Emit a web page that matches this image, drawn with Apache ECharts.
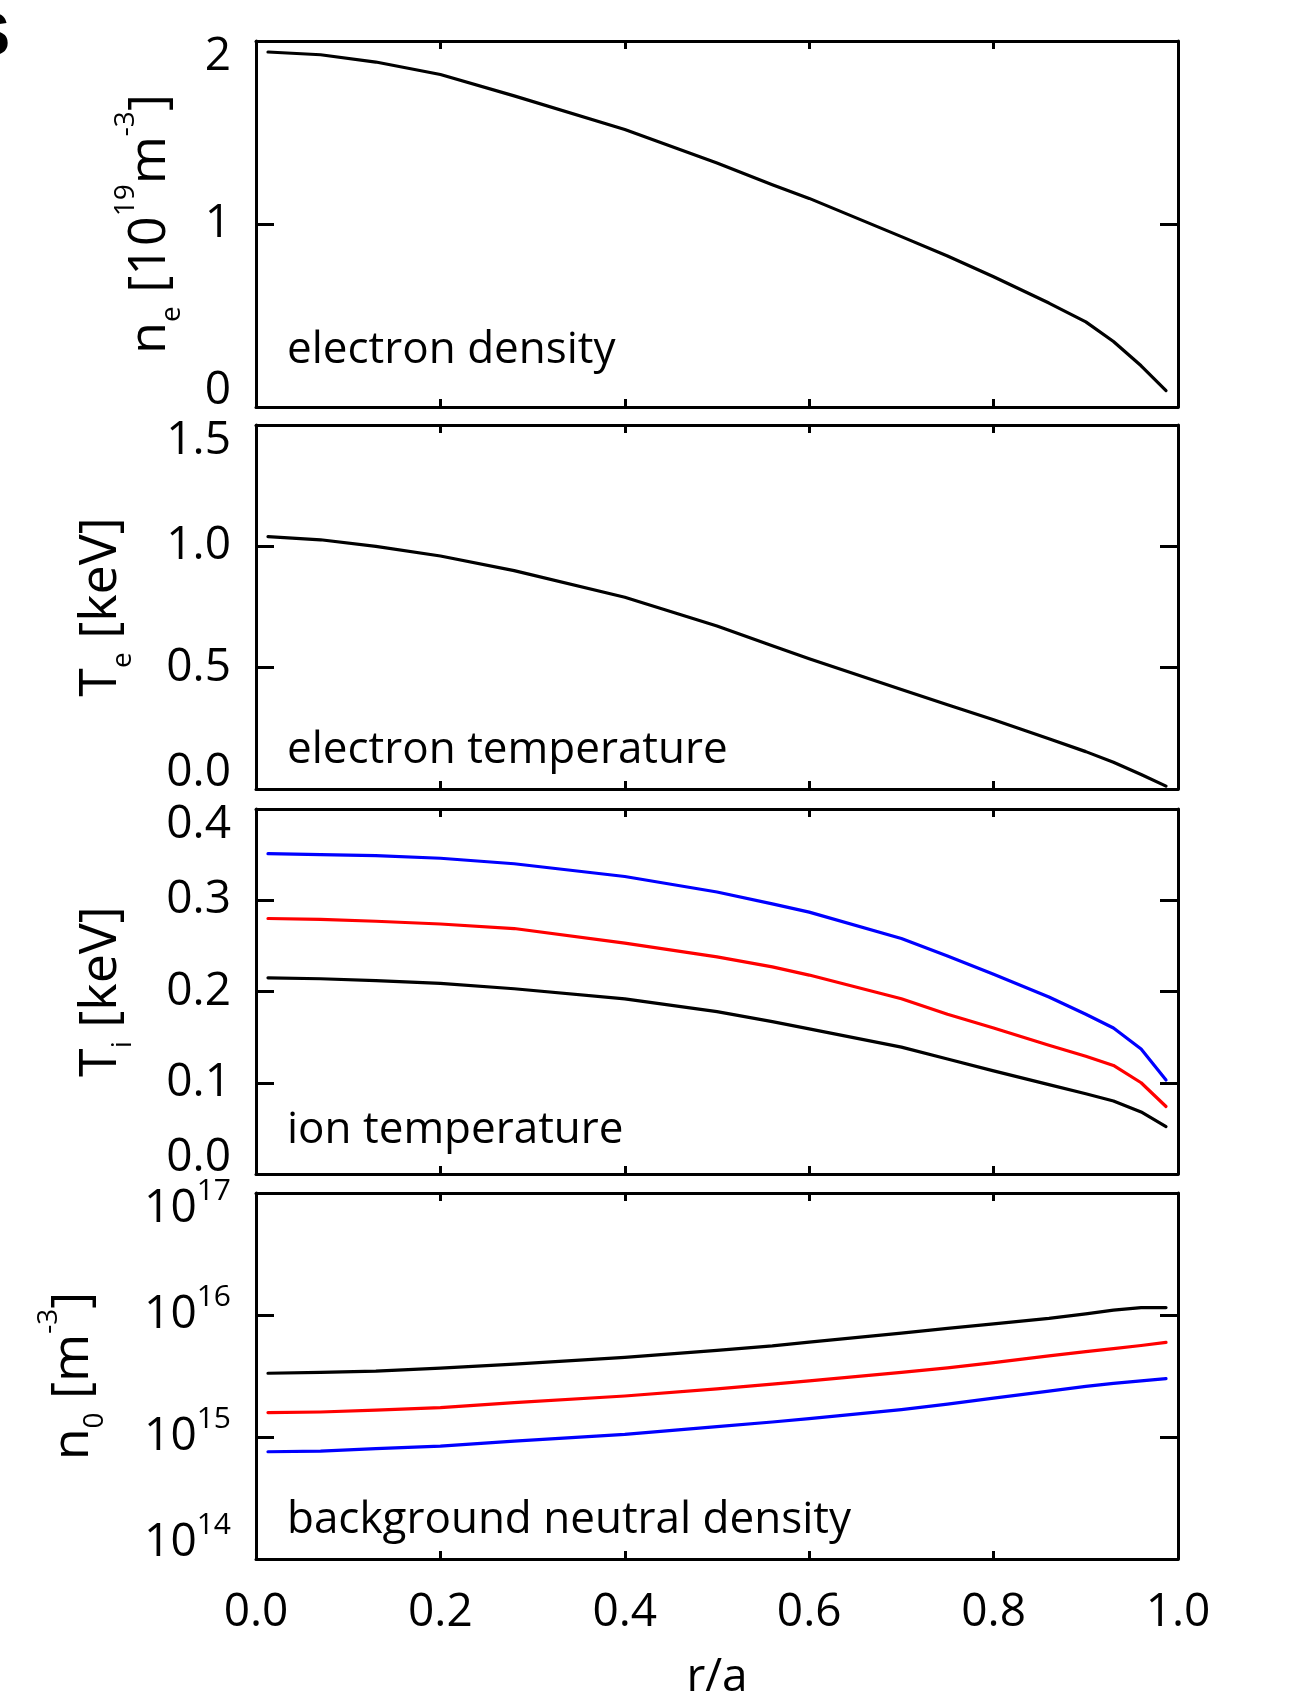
<!DOCTYPE html>
<html>
<head>
<meta charset="utf-8">
<title>Radial profiles</title>
<script src="https://cdn.jsdelivr.net/npm/echarts@6/dist/echarts.min.js"></script>
<style>
  html, body { margin: 0; padding: 0; background: #fff; }
  #chart { width: 1292px; height: 1694px; }
</style>
</head>
<body>
<div id="chart"></div>
<script>
// r/a sample points shared by all profiles
const radius = [0.013, 0.07, 0.13, 0.2, 0.28, 0.4, 0.5, 0.56, 0.6, 0.7, 0.75, 0.8, 0.86, 0.9, 0.93, 0.96, 0.987];

// n_e [1e19 m^-3]
const electronDensity = [1.94, 1.925, 1.885, 1.817, 1.70, 1.516, 1.333, 1.215, 1.14, 0.931, 0.825, 0.712, 0.568, 0.465, 0.358, 0.225, 0.09];
// T_e [keV]
const electronTemp = [1.04, 1.027, 1.0, 0.96, 0.90, 0.79, 0.672, 0.59, 0.537, 0.41, 0.347, 0.285, 0.207, 0.154, 0.11, 0.06, 0.012];
// T_i [keV]
const ionTempBlack = [0.215, 0.214, 0.212, 0.209, 0.203, 0.192, 0.178, 0.167, 0.159, 0.139, 0.126, 0.113, 0.098, 0.088, 0.080, 0.068, 0.052];
const ionTempRed = [0.280, 0.279, 0.277, 0.274, 0.269, 0.253, 0.238, 0.227, 0.218, 0.192, 0.175, 0.160, 0.141, 0.129, 0.119, 0.100, 0.074];
const ionTempBlue = [0.351, 0.350, 0.349, 0.346, 0.340, 0.326, 0.309, 0.296, 0.287, 0.258, 0.239, 0.219, 0.194, 0.175, 0.160, 0.137, 0.103];
// n_0 [m^-3]
const neutralBlack = [3.33e15, 3.39e15, 3.47e15, 3.67e15, 3.95e15, 4.49e15, 5.13e15, 5.58e15, 6.0e15, 7.11e15, 7.76e15, 8.45e15, 9.38e15, 1.023e16, 1.096e16, 1.15e16, 1.15e16];
const neutralRed = [1.585e15, 1.603e15, 1.66e15, 1.738e15, 1.914e15, 2.168e15, 2.483e15, 2.71e15, 2.884e15, 3.39e15, 3.69e15, 4.07e15, 4.62e15, 5.01e15, 5.31e15, 5.62e15, 5.96e15];
const neutralBlue = [7.57e14, 7.67e14, 8.04e14, 8.41e14, 9.25e14, 1.05e15, 1.216e15, 1.327e15, 1.413e15, 1.679e15, 1.862e15, 2.08e15, 2.38e15, 2.6e15, 2.75e15, 2.88e15, 3.01e15];

const panelNotes = ['electron density', 'electron temperature', 'ion temperature', 'background neutral density'];
const axisTitles = [
  '{m|n}{sub|e}{m| [10}{sup|19}{m|m}{sup|-3}{m|]}',
  '{m|T}{sub|e}{m| [keV]}',
  '{m|T}{sub|i}{m| [keV]}',
  '{m|n}{sub|0}{m| [m}{sup|-3}{m|]}',
];

const FONT = '"Open Sans", "Noto Sans", sans-serif';
const BLACK = '#000000';
const RED = '#ff0000';
const BLUE = '#0000ff';

const panels = [
  { top: 41, height: 366, min: 0, max: 2, interval: 1, digits: 0, nameGap: 56, noteY: 350 },
  { top: 425, height: 364, min: 0, max: 1.5, interval: 0.5, digits: 1, nameGap: 105, noteY: 750 },
  { top: 809, height: 365, min: 0, max: 0.4, interval: 0.1, digits: 1, nameGap: 105, noteY: 1130 },
  { top: 1193, height: 366, log: true, min: 1e14, max: 1e17, nameGap: 133, noteY: 1520 },
];

const frameLine = { show: true, onZero: false, lineStyle: { color: BLACK, width: 3 } };

const titleRich = {
  m: { fontSize: 52, lineHeight: 100, fontFamily: FONT, color: BLACK },
  sup: { fontSize: 28, height: 53, verticalAlign: 'top', fontFamily: FONT, color: BLACK },
  sub: { fontSize: 28, height: 56, verticalAlign: 'bottom', fontFamily: FONT, color: BLACK },
};

const tickRich = {
  n: { fontSize: 46, fontFamily: FONT, color: BLACK },
  lo: { fontSize: 46, padding: [0, 0, 32, 0], fontFamily: FONT, color: BLACK },
  hi: { fontSize: 46, padding: [32, 0, 0, 0], fontFamily: FONT, color: BLACK },
  b: { fontSize: 46, height: 46, fontFamily: FONT, color: BLACK },
  bLo: { fontSize: 46, height: 46, padding: [0, 0, 32, 0], fontFamily: FONT, color: BLACK },
  bHi: { fontSize: 46, height: 46, padding: [32, 0, 0, 0], fontFamily: FONT, color: BLACK },
  s: { fontSize: 30, height: 10, verticalAlign: 'top', fontFamily: FONT, color: BLACK },
  sHi: { fontSize: 30, height: 74, verticalAlign: 'top', fontFamily: FONT, color: BLACK },
};

function linearLabel(p) {
  return (v) => {
    const txt = v.toFixed(p.digits);
    if (Math.abs(v - p.min) < 1e-9) return `{lo|${txt}}`;
    if (Math.abs(v - p.max) < 1e-9) return `{hi|${txt}}`;
    return `{n|${txt}}`;
  };
}

function logLabel(v) {
  const e = Math.round(Math.log10(v));
  if (e === 17) return `{bHi|10}{sHi|${e}}`;
  if (e === 14) return `{bLo|10}{s|${e}}`;
  return `{b|10}{s|${e}}`;
}

const grids = [];
const xAxes = [];
const yAxes = [];

panels.forEach((p, i) => {
  grids.push({ left: 256, width: 922, top: p.top, height: p.height, outerBoundsMode: 'none' });

  const last = i === panels.length - 1;
  ['bottom', 'top'].forEach((pos) => {
    const showLabel = last && pos === 'bottom';
    xAxes.push({
      gridIndex: i,
      type: 'value',
      position: pos,
      min: 0,
      max: 1,
      interval: 0.2,
      axisLine: frameLine,
      axisTick: { show: true, inside: true, length: 8, lineStyle: { color: BLACK, width: 3 } },
      axisLabel: {
        show: showLabel,
        margin: 31,
        fontSize: 46,
        lineHeight: 46,
        fontFamily: FONT,
        color: BLACK,
        formatter: (v) => v.toFixed(1),
      },
      splitLine: { show: false },
      name: showLabel ? 'r/a' : '',
      nameLocation: 'middle',
      nameGap: 96,
      nameMoveOverlap: false,
      nameTextStyle: { fontSize: 46, lineHeight: 46, fontFamily: FONT, color: BLACK },
    });
  });

  ['left', 'right'].forEach((pos) => {
    const axis = {
      gridIndex: i,
      type: p.log ? 'log' : 'value',
      position: pos,
      min: p.min,
      max: p.max,
      axisLine: frameLine,
      axisTick: { show: true, inside: true, length: 18, lineStyle: { color: BLACK, width: 3 } },
      axisLabel: {
        show: pos === 'left',
        margin: 25,
        fontFamily: FONT,
        color: BLACK,
        formatter: p.log ? logLabel : linearLabel(p),
        rich: tickRich,
      },
      splitLine: { show: false },
    };
    if (p.log) {
      axis.logBase = 10;
      axis.splitNumber = 3;
    } else {
      axis.interval = p.interval;
    }
    if (pos === 'left') {
      axis.name = axisTitles[i];
      axis.nameLocation = 'middle';
      axis.nameRotate = 90;
      axis.nameGap = p.nameGap;
      axis.nameMoveOverlap = false;
      axis.nameTextStyle = { fontFamily: FONT, color: BLACK, rich: titleRich };
    }
    yAxes.push(axis);
  });
});

function profile(values, color, panel) {
  return {
    type: 'line',
    xAxisIndex: panel * 2,
    yAxisIndex: panel * 2,
    data: radius.map((r, k) => [r, values[k]]),
    showSymbol: false,
    smooth: false,
    lineStyle: { color, width: 3.2, join: 'round', cap: 'round' },
    itemStyle: { color },
    silent: true,
  };
}

const series = [
  profile(electronDensity, BLACK, 0),
  profile(electronTemp, BLACK, 1),
  profile(ionTempBlue, BLUE, 2),
  profile(ionTempRed, RED, 2),
  profile(ionTempBlack, BLACK, 2),
  profile(neutralBlue, BLUE, 3),
  profile(neutralRed, RED, 3),
  profile(neutralBlack, BLACK, 3),
];

const notes = panels.map((p, i) => ({
  type: 'text',
  x: 287,
  y: p.noteY,
  silent: true,
  style: {
    text: panelNotes[i],
    fontSize: 44,
    fontFamily: FONT,
    fill: BLACK,
    align: 'left',
    verticalAlign: 'middle',
  },
}));

// panel letter, mostly cut off at the left edge
notes.push({
  type: 'text',
  x: 10,
  y: 38,
  silent: true,
  style: {
    text: 'S',
    fontSize: 62,
    fontWeight: 'bold',
    fontFamily: '"Liberation Sans", sans-serif',
    fill: BLACK,
    align: 'right',
    verticalAlign: 'middle',
  },
});

const chart = echarts.init(document.getElementById('chart'), null, { renderer: 'canvas' });
chart.setOption({
  animation: false,
  backgroundColor: '#ffffff',
  grid: grids,
  xAxis: xAxes,
  yAxis: yAxes,
  series,
  graphic: notes,
});
</script>
</body>
</html>
